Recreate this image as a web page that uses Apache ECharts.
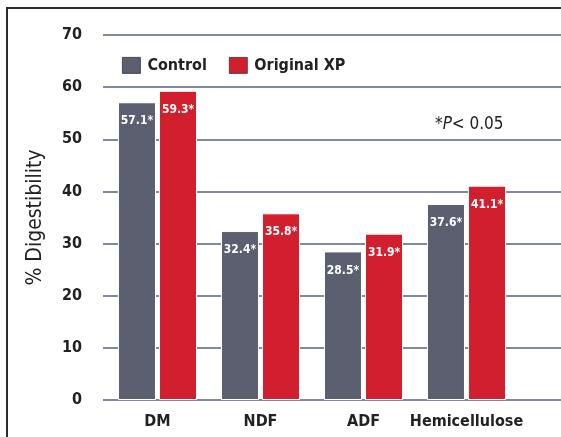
<!DOCTYPE html>
<html>
<head>
<meta charset="utf-8">
<script src="https://cdn.jsdelivr.net/npm/echarts@6/dist/echarts.min.js"></script>
<style>
html,body{margin:0;padding:0;background:#fff;}
#c{width:561px;height:437px;}
</style>
</head>
<body>
<div id="c"></div>
<script>
var categories = ['DM', 'NDF', 'ADF', 'Hemicellulose'];
var controlValues = [57.1, 32.4, 28.5, 37.6];
var xpValues = [59.3, 35.8, 31.9, 41.1];
var seriesNames = ['Control', 'Original XP'];
var yTicks = [0, 10, 20, 30, 40, 50, 60, 70];

var FONT = "'Liberation Sans Narrow', 'DejaVu Sans Condensed', sans-serif";
var GRAY = '#5b5f70';
var RED = '#d21f2e';
var TXT = '#222222';

var chart = echarts.init(document.getElementById('c'), null, {renderer: 'canvas'});

function lbl() {
  return {
    show: true,
    position: 'insideTop',
    distance: 13,
    color: '#ffffff',
    fontFamily: FONT,
    fontWeight: 'bold',
    fontSize: 12,
    formatter: function (p) { return p.value.toFixed(1) + '*'; }
  };
}

var option = {
  backgroundColor: '#ffffff',
  animation: false,
  textStyle: {fontFamily: FONT},
  legend: {
    left: 117,
    top: 52,
    itemWidth: 18,
    itemHeight: 16,
    itemGap: 22,
    icon: 'rect',
    data: seriesNames,
    textStyle: {fontFamily: FONT, fontWeight: 'bold', fontSize: 16, color: TXT, padding: [0, 0, 0, 2]},
    itemStyle: {borderColor: '#333', borderWidth: 0.8}
  },
  grid: [
    {left: 106, right: 43, top: 35, bottom: 37},
    {left: 103, right: 0, top: 35, bottom: 37}
  ],
  xAxis: [
    {
      type: 'category',
      gridIndex: 0,
      data: categories,
      axisLine: {show: false},
      axisTick: {show: false},
      axisLabel: {interval: 0, margin: 14, fontFamily: FONT, fontWeight: 'bold', fontSize: 16, color: TXT}
    },
    {
      type: 'value',
      gridIndex: 1,
      show: false
    }
  ],
  yAxis: [
    {
      type: 'value',
      gridIndex: 0,
      min: yTicks[0],
      max: yTicks[yTicks.length - 1],
      interval: 10,
      axisLine: {show: false},
      axisTick: {show: false},
      splitLine: {show: false},
      axisLabel: {margin: 24, fontFamily: FONT, fontWeight: 'bold', fontSize: 16, color: TXT},
      name: '% Digestibility',
      nameLocation: 'middle',
      nameGap: 60,
      nameRotate: 90,
      nameTextStyle: {fontFamily: FONT, fontSize: 21, color: TXT}
    },
    {
      type: 'value',
      gridIndex: 1,
      min: yTicks[0],
      max: yTicks[yTicks.length - 1],
      interval: 10,
      axisLine: {show: false},
      axisTick: {show: false},
      axisLabel: {show: false},
      splitLine: {show: true, lineStyle: {color: '#56627e', width: 1.5}}
    }
  ],
  series: [
    {
      name: seriesNames[0],
      type: 'bar',
      xAxisIndex: 0,
      yAxisIndex: 0,
      data: controlValues,
      barWidth: 38,
      barGap: '8%',
      itemStyle: {color: GRAY, borderColor: '#ffffff', borderWidth: 1},
      label: lbl(),
      z: 3
    },
    {
      name: seriesNames[1],
      type: 'bar',
      xAxisIndex: 0,
      yAxisIndex: 0,
      data: xpValues,
      barWidth: 38,
      barGap: '8%',
      itemStyle: {color: RED, borderColor: '#ffffff', borderWidth: 1},
      label: lbl(),
      z: 3
    }
  ],
  graphic: [
    {
      type: 'line',
      shape: {x1: 7, y1: 8, x2: 7, y2: 437},
      style: {stroke: '#2b2b33', lineWidth: 2}
    },
    {
      type: 'line',
      shape: {x1: 6, y1: 8, x2: 561, y2: 8},
      style: {stroke: '#2b2b33', lineWidth: 2}
    },
    {
      type: 'text',
      left: 435,
      top: 116,
      style: {
        text: '{a|*}{b|P}{a|< 0.05}',
        rich: {
          a: {fontFamily: FONT, fontSize: 17, fill: TXT},
          b: {fontFamily: FONT, fontSize: 17, fontStyle: 'italic', fill: TXT}
        }
      }
    }
  ]
};

chart.setOption(option);
</script>
</body>
</html>
